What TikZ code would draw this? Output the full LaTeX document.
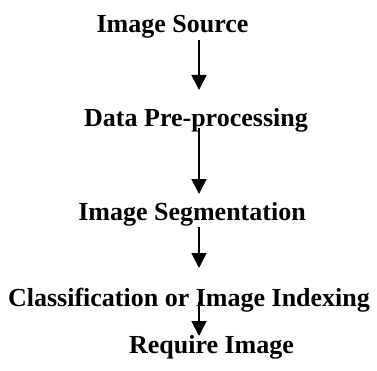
\documentclass[tikz,border=0pt]{standalone}
\usepackage{fontspec}
\setmainfont{Liberation Serif}
\usetikzlibrary{arrows.meta,calc}
\tikzset{
	stage/.style={anchor=base, inner sep=0pt, font=\fontsize{26}{31}\selectfont\bfseries},
	flow/.style={line width=1.8pt, -{Triangle[width=15pt,length=15pt]}}
}
\begin{document}
\begin{tikzpicture}[x=1pt,y=1pt]
			\useasboundingbox (0,0) rectangle (377,370);
			\coordinate (spine) at (199,0);
			
			\node[stage] (src) at (172.5,337) {Image Source};
			\node[stage] (pre) at (196,243) {Data Pre-processing};
			\node[stage] (seg) at (192,150) {Image Segmentation};
			\node[stage] (cls) at (189,64) {Classification or Image Indexing};
			\node[stage] (req) at (211.5,17) {Require Image};
			
			\draw[flow] ($(src.base -| spine)+(0,-7)$) -- ($(pre.base -| spine)+(0,37)$);
			\draw[flow] ($(pre.base -| spine)+(0,-1)$) -- ($(seg.base -| spine)+(0,26)$);
			\draw[flow] ($(seg.base -| spine)+(0,-7)$) -- ($(cls.base -| spine)+(0,38)$);
			\draw[flow] ($(cls.base -| spine)+(0,4)$) -- ($(req.base -| spine)+(0,17)$);
		\end{tikzpicture}
\end{document}
